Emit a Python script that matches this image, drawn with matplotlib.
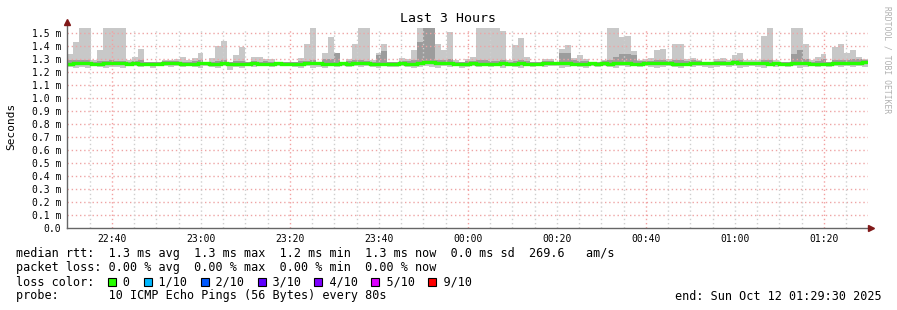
import numpy as np
import matplotlib
matplotlib.use("Agg")
import matplotlib.pyplot as plt
from matplotlib.patches import Rectangle

plt.rcParams['font.family'] = 'DejaVu Sans Mono'

# x axis in minutes after 22:00, one bin per 80 s probe round
start_min = 29.9
step_min = 80 / 60

# max ping per bin (ms)
hi = [1.34, 1.43, 1.58, 1.58, 1.29, 1.37, 1.58, 1.58, 1.58, 1.58,
      1.29, 1.32, 1.38, 1.28, 1.28, 1.28, 1.29, 1.29, 1.30, 1.32,
      1.29, 1.31, 1.35, 1.28, 1.31, 1.40, 1.44, 1.28, 1.33, 1.39,
      1.28, 1.32, 1.32, 1.30, 1.30, 1.28, 1.28, 1.28, 1.28, 1.31,
      1.42, 1.58, 1.28, 1.35, 1.47, 1.35, 1.28, 1.30, 1.42, 1.58,
      1.58, 1.29, 1.35, 1.42, 1.28, 1.28, 1.31, 1.30, 1.37, 1.58,
      1.58, 1.58, 1.42, 1.37, 1.51, 1.29, 1.28, 1.30, 1.32, 1.58,
      1.58, 1.58, 1.58, 1.52, 1.29, 1.41, 1.46, 1.32, 1.28, 1.28,
      1.30, 1.30, 1.28, 1.38, 1.41, 1.31, 1.33, 1.30, 1.28, 1.28,
      1.29, 1.58, 1.58, 1.47, 1.48, 1.36, 1.29, 1.30, 1.31, 1.37,
      1.38, 1.30, 1.42, 1.42, 1.30, 1.31, 1.29, 1.28, 1.28, 1.30,
      1.31, 1.29, 1.33, 1.35, 1.29, 1.29, 1.29, 1.48, 1.58, 1.29,
      1.28, 1.28, 1.58, 1.58, 1.42, 1.29, 1.32, 1.34, 1.28, 1.39,
      1.42, 1.35, 1.37, 1.32, 1.30]

# min ping per bin (ms)
lo = [1.24, 1.235, 1.24, 1.235, 1.245, 1.24, 1.235, 1.24, 1.24, 1.235,
      1.245, 1.245, 1.24, 1.245, 1.235, 1.245, 1.245, 1.24, 1.245, 1.24,
      1.245, 1.24, 1.235, 1.245, 1.24, 1.235, 1.245, 1.22, 1.24, 1.235,
      1.245, 1.24, 1.245, 1.245, 1.24, 1.245, 1.245, 1.245, 1.24, 1.235,
      1.245, 1.235, 1.24, 1.235, 1.245, 1.24, 1.245, 1.24, 1.245, 1.24,
      1.245, 1.24, 1.235, 1.245, 1.24, 1.24, 1.245, 1.24, 1.235, 1.24,
      1.245, 1.24, 1.235, 1.245, 1.24, 1.245, 1.235, 1.24, 1.245, 1.24,
      1.245, 1.24, 1.245, 1.235, 1.245, 1.24, 1.235, 1.245, 1.24, 1.245,
      1.24, 1.245, 1.245, 1.23, 1.24, 1.245, 1.24, 1.235, 1.245, 1.24,
      1.245, 1.24, 1.235, 1.245, 1.24, 1.245, 1.24, 1.245, 1.24, 1.235,
      1.24, 1.245, 1.24, 1.235, 1.245, 1.24, 1.245, 1.24, 1.235, 1.24,
      1.245, 1.24, 1.245, 1.235, 1.24, 1.245, 1.24, 1.235, 1.245, 1.24,
      1.245, 1.24, 1.245, 1.235, 1.24, 1.245, 1.24, 1.245, 1.24, 1.245,
      1.24, 1.245, 1.24, 1.245, 1.24]

# upper edge of the darker inner smoke
inner = [1.29, 1.295, 1.295, 1.29, 1.28, 1.285, 1.285, 1.29, 1.285, 1.285,
         1.28, 1.285, 1.29, 1.28, 1.28, 1.28, 1.285, 1.285, 1.285, 1.28,
         1.28, 1.285, 1.29, 1.28, 1.28, 1.285, 1.29, 1.28, 1.285, 1.285,
         1.28, 1.285, 1.28, 1.285, 1.28, 1.28, 1.28, 1.28, 1.28, 1.285,
         1.285, 1.29, 1.28, 1.30, 1.30, 1.35, 1.28, 1.285, 1.29, 1.29,
         1.285, 1.28, 1.33, 1.36, 1.28, 1.28, 1.285, 1.285, 1.29, 1.43,
         1.58, 1.58, 1.29, 1.29, 1.30, 1.28, 1.28, 1.285, 1.285, 1.29,
         1.29, 1.285, 1.285, 1.29, 1.28, 1.285, 1.29, 1.285, 1.28, 1.28,
         1.285, 1.285, 1.28, 1.35, 1.35, 1.29, 1.285, 1.285, 1.28, 1.28,
         1.285, 1.29, 1.32, 1.34, 1.34, 1.33, 1.285, 1.285, 1.285, 1.29,
         1.29, 1.285, 1.29, 1.29, 1.285, 1.29, 1.285, 1.28, 1.28, 1.285,
         1.285, 1.28, 1.29, 1.29, 1.28, 1.28, 1.28, 1.29, 1.29, 1.28,
         1.28, 1.28, 1.34, 1.37, 1.30, 1.28, 1.285, 1.30, 1.28, 1.29,
         1.29, 1.29, 1.30, 1.30, 1.29]

# median rtt per bin (ms)
med = [1.265, 1.272, 1.27, 1.268, 1.265, 1.262, 1.27, 1.27, 1.27, 1.27,
       1.266, 1.268, 1.265, 1.262, 1.266, 1.265, 1.268, 1.27, 1.268, 1.266,
       1.262, 1.265, 1.268, 1.27, 1.262, 1.265, 1.268, 1.262, 1.265, 1.262,
       1.265, 1.268, 1.265, 1.26, 1.265, 1.268, 1.266, 1.265, 1.262, 1.265,
       1.27, 1.272, 1.268, 1.265, 1.266, 1.262, 1.268, 1.265, 1.27, 1.272,
       1.268, 1.265, 1.262, 1.265, 1.266, 1.265, 1.268, 1.265, 1.265, 1.27,
       1.275, 1.275, 1.27, 1.268, 1.27, 1.265, 1.262, 1.265, 1.268, 1.265,
       1.265, 1.262, 1.265, 1.268, 1.265, 1.266, 1.27, 1.265, 1.262, 1.265,
       1.268, 1.27, 1.272, 1.27, 1.268, 1.265, 1.262, 1.265, 1.268, 1.266,
       1.268, 1.265, 1.272, 1.27, 1.268, 1.266, 1.265, 1.268, 1.27, 1.272,
       1.27, 1.268, 1.265, 1.262, 1.265, 1.268, 1.27, 1.272, 1.27, 1.268,
       1.27, 1.272, 1.275, 1.272, 1.27, 1.268, 1.27, 1.268, 1.265, 1.268,
       1.266, 1.265, 1.268, 1.272, 1.27, 1.265, 1.266, 1.262, 1.265, 1.268,
       1.27, 1.268, 1.272, 1.27, 1.275]

tick_pos = [40, 60, 80, 100, 120, 140, 160, 180, 200]
tick_labels = ["22:40", "23:00", "23:20", "23:40", "00:00", "00:20", "00:40", "01:00", "01:20"]
major_grid = [40, 80, 120, 160, 200]

y_ticks = [0.0, 0.1, 0.2, 0.3, 0.4, 0.5, 0.6, 0.7, 0.8, 0.9, 1.0, 1.1, 1.2, 1.3, 1.4, 1.5]
y_labels = ["0.0"] + [f"{v:.1f} m" for v in y_ticks[1:]]

loss_labels = ["0", "1/10", "2/10", "3/10", "4/10", "5/10", "9/10"]
loss_colors = ["#26ff00", "#00b8ff", "#0059ff", "#5e00ff", "#7e00ff", "#dd00ff", "#ff0000"]

W, H = 897, 310
fig = plt.figure(figsize=(W / 100, H / 100), dpi=100)
ax = fig.add_axes([67 / W, 82 / H, 801 / W, 200 / H])

edges = start_min + step_min * np.arange(len(hi) + 1)
med_a = np.array(med)

ax.stairs(hi, edges, baseline=lo, fill=True, color="#c8c8c8", lw=0, zorder=1)
ax.stairs(inner, edges, baseline=med_a - 0.012, fill=True, color="#9c9c9c", lw=0, zorder=2)

# grid drawn over the smoke, like rrdtool does
for v in y_ticks[1:]:
    ax.axhline(v, color="#eea4a4", lw=1, ls=(0, (1, 2)), zorder=3)
for m in np.arange(35, 210, 5):
    if m in major_grid:
        ax.axvline(m, color="#f2a0a0", lw=1, ls=(0, (1, 2)), zorder=3)
    else:
        ax.axvline(m, color="#cfcfcf", lw=1, ls=(0, (1, 2)), zorder=3)

ax.stairs(med, edges, baseline=None, color="#26ff00", lw=2.4, zorder=5)

ax.set_xlim(start_min, start_min + 180)
ax.set_ylim(0, 1.54)
ax.set_xticks(tick_pos)
ax.set_xticklabels(tick_labels)
ax.set_yticks(y_ticks)
ax.set_yticklabels(y_labels)
ax.tick_params(axis="both", labelsize=7, length=0, pad=4, colors="black")
for s in ax.spines.values():
    s.set_visible(False)

# axis lines with arrows
ax.plot([0, 0], [0, 1.025], color="#666666", lw=1, transform=ax.transAxes, clip_on=False, zorder=6)
ax.plot([0, 1.003], [0, 0], color="#666666", lw=1, transform=ax.transAxes, clip_on=False, zorder=6)
ax.plot(0, 1.03, marker="^", color="#801818", ms=4, transform=ax.transAxes, clip_on=False, zorder=7)
ax.plot(1.004, 0, marker=">", color="#801818", ms=4, transform=ax.transAxes, clip_on=False, zorder=7)


def px(x, y):
    return x / W, 1 - y / H


fig.text(*px(448, 19), "Last 3 Hours", fontsize=9.5, ha="center", va="center")
fig.text(*px(11, 126), "Seconds", fontsize=8, rotation=90, ha="center", va="center")
fig.text(*px(887, 60), "RRDTOOL / TOBI OETIKER", fontsize=5.8, rotation=270,
         ha="center", va="center", color="#b0b0b0")

fs = 8.5
cw = fs * 100 / 72 * 0.602
x0 = 16
fig.text(*px(x0, 254), "median rtt:  1.3 ms avg  1.3 ms max  1.2 ms min  1.3 ms now  0.0 ms sd  269.6   am/s",
         fontsize=fs, ha="left", va="center")
fig.text(*px(x0, 268), "packet loss: 0.00 % avg  0.00 % max  0.00 % min  0.00 % now",
         fontsize=fs, ha="left", va="center")

line = "loss color:  "
for lab, col in zip(loss_labels, loss_colors):
    bx = x0 + len(line) * cw
    fig.patches.append(Rectangle(px(bx, 286), 8 / W, 8 / H, transform=fig.transFigure,
                                 facecolor=col, edgecolor="black", lw=0.8))
    line += "  " + lab + "  "
fig.text(*px(x0, 282), line.rstrip(), fontsize=fs, ha="left", va="center")

fig.text(*px(x0, 296), "probe:       10 ICMP Echo Pings (56 Bytes) every 80s",
         fontsize=fs, ha="left", va="center")
fig.text(*px(882, 296), "end: Sun Oct 12 01:29:30 2025", fontsize=fs, ha="right", va="center")

fig.savefig("out.png", dpi=100, facecolor="white")
